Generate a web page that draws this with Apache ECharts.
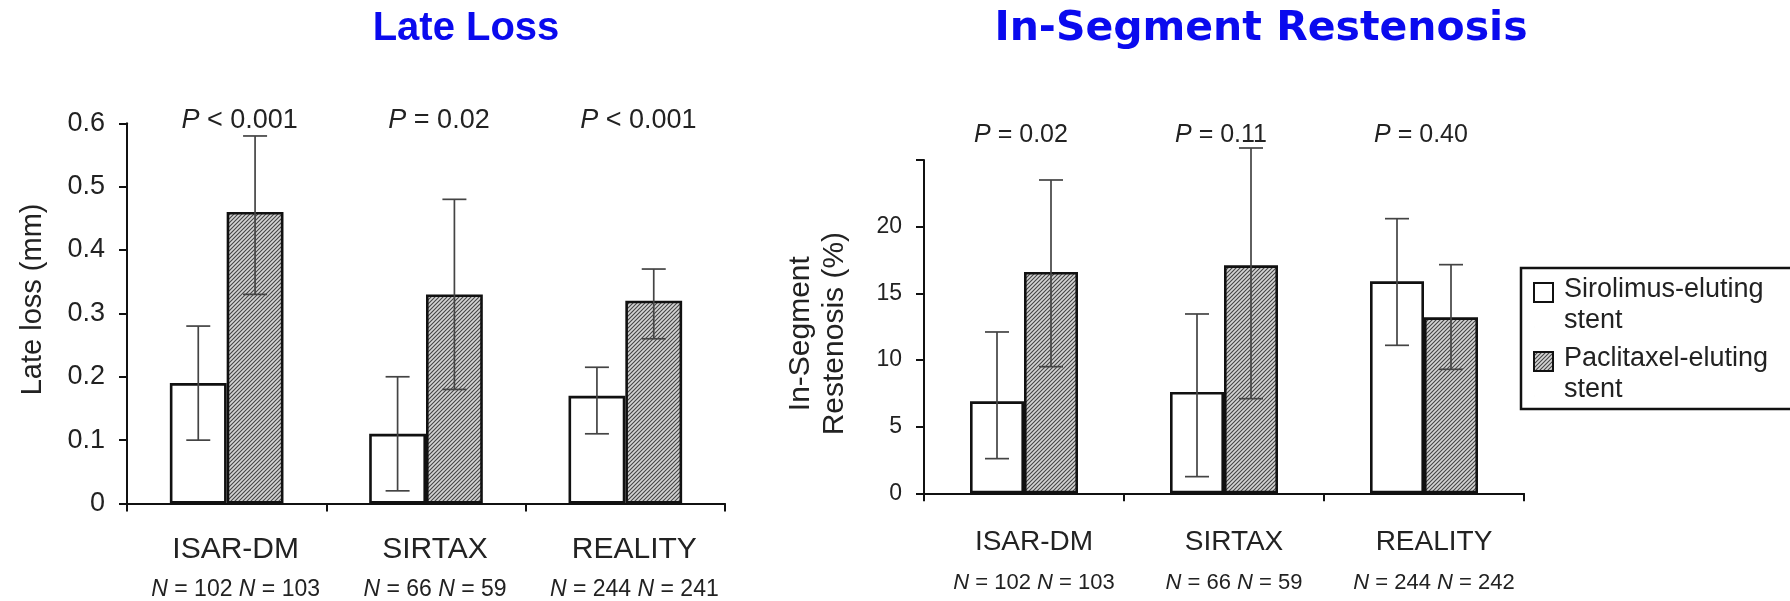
<!DOCTYPE html>
<html><head><meta charset="utf-8">
<script src="https://cdn.jsdelivr.net/npm/echarts@6/dist/echarts.min.js"></script>
<style>html,body{margin:0;padding:0;background:#fff}#c{width:1790px;height:601px}</style>
</head><body><div id="c"></div>
<script>
// ---------- data ----------
const categories = ['ISAR-DM', 'SIRTAX', 'REALITY'];
const seriesNames = ['Sirolimus-eluting\nstent', 'Paclitaxel-eluting\nstent'];

// Late loss (mm)
const lateLossSES     = [0.19, 0.11, 0.17];
const lateLossSESLow  = [0.10, 0.02, 0.11];
const lateLossSESHigh = [0.28, 0.20, 0.215];
const lateLossPES     = [0.46, 0.33, 0.32];
const lateLossPESLow  = [0.33, 0.18, 0.26];
const lateLossPESHigh = [0.58, 0.48, 0.37];
const lateLossP       = ['< 0.001', '= 0.02', '< 0.001'];
const lateLossNSES    = [102, 66, 244];
const lateLossNPES    = [103, 59, 241];

// In-segment restenosis (%)
const isrSES     = [6.9, 7.6, 15.9];
const isrSESLow  = [2.6, 1.25, 11.1];
const isrSESHigh = [12.1, 13.45, 20.6];
const isrPES     = [16.6, 17.1, 13.2];
const isrPESLow  = [9.5, 7.1, 9.3];
const isrPESHigh = [23.5, 25.9, 17.15];
const isrP       = ['= 0.02', '= 0.11', '= 0.40'];
const isrNSES    = [102, 66, 244];
const isrNPES    = [103, 59, 242];

// axis scales
const lateLossMax = 0.6, lateLossStep = 0.1;
const isrMax = 25, isrStep = 5;

// ---------- styling ----------
const FONT = '"Liberation Sans", Arial, Helvetica, sans-serif';
const INK = '#222';
const LINE = '#111';

function hatch() {
  const c = document.createElement('canvas');
  c.width = 4; c.height = 4;
  const g = c.getContext('2d');
  g.fillStyle = '#d4d4d4'; g.fillRect(0, 0, 4, 4);
  g.strokeStyle = '#444'; g.lineWidth = 1.1;
  g.beginPath();
  g.moveTo(0, 4); g.lineTo(4, 0);
  g.moveTo(-1, 1); g.lineTo(1, -1);
  g.moveTo(3, 5); g.lineTo(5, 3);
  g.stroke();
  return c;
}
const hatchPattern = { image: hatch(), repeat: 'repeat' };

const FRAC = [0.285, 0.27];

function errRender(frac, side) {
  return function (params, api) {
    const i = api.value(0);
    const lo = api.coord([i, api.value(1)]);
    const hi = api.coord([i, api.value(2)]);
    const bw = api.size([1, 0])[0] * frac;
    const x = lo[0] + side * bw / 2;
    const cap = 12;
    const st = { stroke: '#444', lineWidth: 1.7 };
    return { type: 'group', children: [
      { type: 'line', shape: { x1: x, y1: lo[1], x2: x, y2: hi[1] }, style: st },
      { type: 'line', shape: { x1: x - cap, y1: hi[1], x2: x + cap, y2: hi[1] }, style: st },
      { type: 'line', shape: { x1: x - cap, y1: lo[1], x2: x + cap, y2: lo[1] }, style: st }
    ]};
  };
}

function pRender(labels, yTop, dx, dy, fs) {
  return function (params, api) {
    const i = api.value(0);
    const p = api.coord([i, yTop]);
    return { type: 'text', x: p[0] + dx, y: p[1] + dy, style: {
      text: '{i|P} ' + labels[i], align: 'center', verticalAlign: 'middle',
      fill: INK, fontSize: fs, fontFamily: FONT,
      rich: { i: { fontStyle: 'italic', fontSize: fs, fontFamily: FONT, fill: INK } }
    }};
  };
}

function xLabelFmt(nA, nB) {
  return function (v, idx) {
    return '{c|' + v + '}\n{ni|N}{n| = ' + nA[idx] + ' }{ni|N}{n| = ' + nB[idx] + '}';
  };
}

const axisLine = { show: true, lineStyle: { color: LINE, width: 2 } };
const axisTick = { show: true, length: 8, lineStyle: { color: LINE, width: 2 } };

function barSeries(name, data, g, frac, ses) {
  return {
    type: 'bar', name: name, xAxisIndex: g, yAxisIndex: g, data: data,
    barWidth: (frac * 100) + '%', barGap: '0%',
    itemStyle: { color: ses ? '#ffffff' : hatchPattern, borderColor: LINE, borderWidth: 2.6 },
    emphasis: { disabled: true }, z: 2
  };
}
function errSeries(low, high, g, frac, side) {
  return {
    type: 'custom', xAxisIndex: g, yAxisIndex: g, clip: false, z: 5,
    renderItem: errRender(frac, side),
    encode: { x: 0, y: [1, 2] },
    data: categories.map((c, i) => [i, low[i], high[i]]),
    silent: true, tooltip: { show: false }
  };
}

const option = {
  animation: false,
  graphic: [
    { type: 'text', x: 466, y: 29, style: { text: 'Late Loss', align: 'center', verticalAlign: 'middle',
      fill: '#0a0aee', fontSize: 40, fontWeight: 'bold', fontFamily: FONT } },
    { type: 'text', x: 1261, y: 29, style: { text: 'In-Segment Restenosis', align: 'center', verticalAlign: 'middle',
      fill: '#0a0aee', fontSize: 41, fontWeight: 'bold', fontFamily: '"DejaVu Sans", Verdana, sans-serif' } }
  ],
  legend: {
    data: seriesNames, orient: 'vertical', left: 1521, top: 268,
    icon: 'path://M0,0H19V19H0Z M0,44H0.01',
    itemWidth: 19, itemHeight: 44, itemGap: 7, selectedMode: false,
    borderColor: LINE, borderWidth: 2.5, padding: [6, 40, 4, 12],
    textStyle: { fontSize: 27, lineHeight: 31, color: INK, fontFamily: FONT, padding: [0, 0, 0, 6] }
  },
  grid: [
    { left: 127, top: 123.3, width: 598, height: 380.7 },
    { left: 924, top: 160, width: 600, height: 333.3 }
  ],
  xAxis: [
    { type: 'category', gridIndex: 0, data: categories, axisLine: axisLine, axisTick: axisTick,
      axisLabel: { interval: 0, margin: 25, padding: [0, 0, 0, 18], formatter: xLabelFmt(lateLossNSES, lateLossNPES),
        rich: { c: { fontSize: 30, lineHeight: 42, color: INK, fontFamily: FONT },
                n: { fontSize: 23, lineHeight: 38, color: INK, fontFamily: FONT },
                ni: { fontSize: 23, lineHeight: 38, color: INK, fontFamily: FONT, fontStyle: 'italic' } } } },
    { type: 'category', gridIndex: 1, data: categories, axisLine: axisLine, axisTick: axisTick,
      axisLabel: { interval: 0, margin: 29, padding: [0, 0, 0, 20], formatter: xLabelFmt(isrNSES, isrNPES),
        rich: { c: { fontSize: 28, lineHeight: 40, color: INK, fontFamily: FONT },
                n: { fontSize: 22, lineHeight: 42, color: INK, fontFamily: FONT },
                ni: { fontSize: 22, lineHeight: 42, color: INK, fontFamily: FONT, fontStyle: 'italic' } } } }
  ],
  yAxis: [
    { type: 'value', gridIndex: 0, min: 0, max: lateLossMax, interval: lateLossStep,
      axisLine: axisLine, axisTick: axisTick, splitLine: { show: false },
      axisLabel: { fontSize: 27, color: INK, fontFamily: FONT, margin: 22 },
      name: 'Late loss (mm)', nameLocation: 'middle', nameGap: 80,
      nameTextStyle: { fontSize: 29, color: INK, fontFamily: FONT, padding: [0, 0, 0, 28] } },
    { type: 'value', gridIndex: 1, min: 0, max: isrMax, interval: isrStep,
      axisLine: axisLine, axisTick: axisTick, splitLine: { show: false },
      axisLabel: { fontSize: 23, color: INK, fontFamily: FONT, margin: 22,
        formatter: v => (v === isrMax ? '' : String(v)) },
      name: 'In-Segment\nRestenosis (%)', nameLocation: 'middle', nameGap: 72,
      nameTextStyle: { fontSize: 30, lineHeight: 34, color: INK, fontFamily: FONT, padding: [0, 14, 0, 0] } }
  ],
  series: [
    barSeries(seriesNames[0], lateLossSES, 0, FRAC[0], true),
    barSeries(seriesNames[1], lateLossPES, 0, FRAC[0], false),
    barSeries(seriesNames[0], isrSES, 1, FRAC[1], true),
    barSeries(seriesNames[1], isrPES, 1, FRAC[1], false),
    errSeries(lateLossSESLow, lateLossSESHigh, 0, FRAC[0], -1),
    errSeries(lateLossPESLow, lateLossPESHigh, 0, FRAC[0], 1),
    errSeries(isrSESLow, isrSESHigh, 1, FRAC[1], -1),
    errSeries(isrPESLow, isrPESHigh, 1, FRAC[1], 1),
    { type: 'custom', xAxisIndex: 0, yAxisIndex: 0, clip: false, silent: true,
      renderItem: pRender(lateLossP, lateLossMax, 13, -3, 27),
      data: categories.map((c, i) => [i, lateLossMax]) },
    { type: 'custom', xAxisIndex: 1, yAxisIndex: 1, clip: false, silent: true,
      renderItem: pRender(isrP, isrMax, -3, -25, 25),
      data: categories.map((c, i) => [i, isrMax]) }
  ]
};

const chart = echarts.init(document.getElementById('c'), null, { renderer: 'canvas' });
chart.setOption(option);
</script>
</body></html>
